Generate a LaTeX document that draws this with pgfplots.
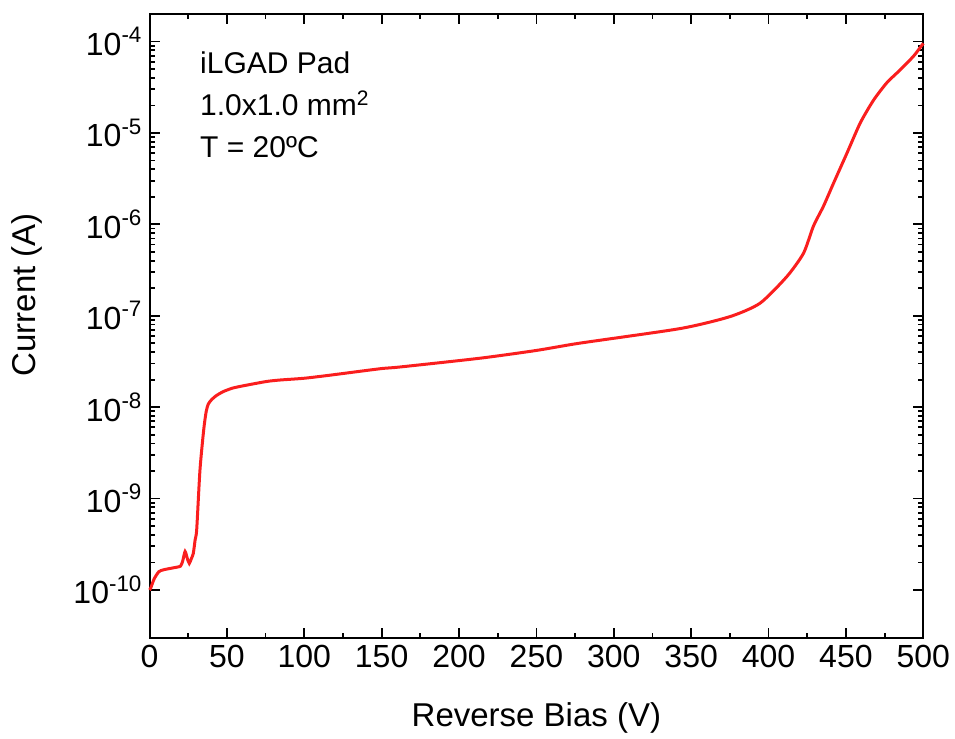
\documentclass[border=0pt]{standalone}
\usepackage{fontspec}
\setmainfont{Liberation Sans}
\usepackage{pgfplots}
\pgfplotsset{compat=1.18}
\definecolor{curvered}{RGB}{250,30,30}
\begin{document}
\begin{tikzpicture}
\begin{axis}[
  name=ax,
  scale only axis,
  width=386.9pt, height=311.85pt,
  xmin=0, xmax=500, ymin=3e-11, ymax=2e-4,
  ymode=log,
  axis line style={line width=1pt},
  every tick/.style={line width=0.9pt, black},
  major tick length=5pt, minor tick length=2.6pt,
  xtick={0,50,...,500}, minor x tick num=1,
  ytick={1e-10,1e-9,1e-8,1e-7,1e-6,1e-5,1e-4},
  yticklabels={10\textsuperscript{-10},10\textsuperscript{-9},10\textsuperscript{-8},10\textsuperscript{-7},10\textsuperscript{-6},10\textsuperscript{-5},10\textsuperscript{-4}},
  /pgf/number format/assume math mode=true,
  tick label style={font=\fontsize{16}{19}\selectfont, black},
  xlabel={Reverse Bias (V)}, ylabel={Current (A)},
  label style={font=\fontsize{16.5}{19}\selectfont},
  xlabel style={at={(axis description cs:0.5,-0.1287)}, anchor=center},
  ylabel style={at={(axis description cs:-0.158,0.55)}, anchor=center},
  clip=false,
]
\addplot[curvered, line width=1.5pt, smooth, tension=0.4] coordinates {
(0,1.0e-10) (0.8,1.05e-10) (3,1.32e-10) (6,1.58e-10) (9,1.66e-10) (15,1.74e-10)
(20,1.82e-10) (21.5,2.09e-10) (23,2.63e-10) (24.5,2.19e-10) (25.7,1.95e-10)
(27,2.19e-10) (28.3,2.51e-10) (29.5,3.55e-10) (30.5,4.57e-10) (32.6,2.04e-9)
(35,5.6e-9) (36.6,8.9e-9) (38,1.08e-8) (40,1.2e-8) (43,1.33e-8) (47.7,1.48e-8)
(54,1.62e-8) (62.8,1.74e-8) (75.8,1.91e-8) (84.4,1.98e-8) (100,2.07e-8)
(117,2.24e-8) (149,2.63e-8) (162,2.75e-8)
(213.6,3.43e-8) (250,4.17e-8) (278,5.01e-8) (343,7.24e-8) (375,9.77e-8)
(394.5,1.37e-7) (411.9,2.69e-7) (422.6,4.83e-7) (429,9.55e-7) (435.5,1.58e-6)
(442,2.82e-6) (450.7,6.03e-6) (459.3,1.29e-5) (467.9,2.29e-5) (476.5,3.55e-5)
(485.1,4.9e-5) (493.7,6.92e-5) (500,9.55e-5)
};
\node[anchor=north west, align=left, inner sep=0pt, font=\fontsize{15}{21}\selectfont]
  at (rel axis cs:0.065,0.94) {iLGAD Pad\\1.0x1.0 mm\textsuperscript{2}\\T = 20ºC};
\end{axis}
\pgfresetboundingbox
\path ([xshift=-74.75pt,yshift=-50.15pt]ax.south west) rectangle ([xshift=15.85pt,yshift=7pt]ax.north east);
\end{tikzpicture}
\end{document}
